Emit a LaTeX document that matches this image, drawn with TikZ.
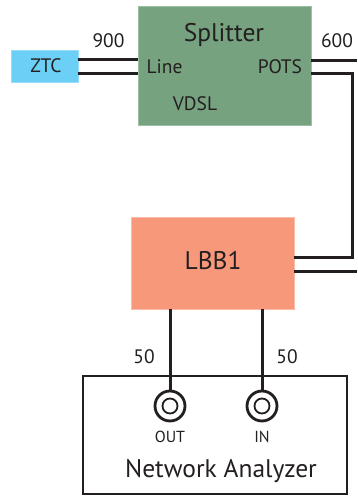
\documentclass[tikz,border=0pt]{standalone}
\usepackage{fontspec}
\setmainfont{PT Sans}
\definecolor{txt}{HTML}{231F20}
\definecolor{splitg}{HTML}{76A280}
\definecolor{splitb}{HTML}{9CC0A4}
\definecolor{lbbf}{HTML}{F7987A}
\definecolor{lbbb}{HTML}{FBBBA5}
\definecolor{ztcf}{HTML}{6CCFF6}
\begin{document}
\begin{tikzpicture}[x=1pt,y=-1pt,
  box/.style={rectangle, inner sep=0pt, outer sep=0pt},
  wire/.style={draw=txt, line width=3pt},
  lbl/.style={text=txt, inner sep=0pt, font=\fontsize{19.5}{21}\selectfont},
  big/.style={text=txt, inner sep=0pt, font=\fontsize{25.5}{28}\selectfont},
  small/.style={text=txt, inner sep=0pt, font=\fontsize{16}{18}\selectfont},
  jack/.style={circle, draw=txt, line width=2.8pt, fill=white, inner sep=0pt, minimum size=30pt},
  jackin/.style={circle, draw=txt, line width=1.8pt, inner sep=0pt, minimum size=15pt}
]
\useasboundingbox (0,0) rectangle (357,496);
% boxes
\node[box, fill=splitg, draw=splitb, line width=1pt, minimum width=173pt, minimum height=119pt] (split) at (224.5,65.5) {};
\node[box, fill=ztcf, draw=ztcf!70!white, line width=0.8pt, minimum width=67pt, minimum height=32pt] (ztc) at (44.5,66) {};
\node[box, fill=lbbf, draw=lbbb, line width=1pt, minimum width=163pt, minimum height=92pt] (lbb) at (212.5,263) {};
\node[box, draw=txt, line width=2.4pt, minimum width=264pt, minimum height=118pt] (na) at (215,435) {};
% texts
\node[big] (tsplit) at (224,35) {Splitter};
\node[lbl] (tline) at (164.5,67) {Line};
\node[lbl] (tpots) at (280,67) {POTS};
\node[lbl] (tvdsl) at (195,104) {VDSL};
\node[lbl] (tztc) at (46,66) {ZTC};
\node[big] (tlbb) at (213,261) {LBB1};
\node[lbl] (t900) at (108.5,41) {900};
\node[lbl] (t600) at (337,41) {600};
\node[lbl] (t50a) at (144,357) {50};
\node[lbl] (t50b) at (287,357) {50};
\node[big] (tna) at (221,471) {Network Analyzer};
% jacks
\node[jack] (out) at (170,406) {};
\node[jackin] (outc) at (out.center) {};
\node[jack] (in) at (262,406) {};
\node[jackin] (inc) at (in.center) {};
\node[small] (tout) at (170,437) {OUT};
\node[small] (tin) at (262,437) {IN};
% free ends
\coordinate (e1) at (357,60);
\coordinate (e2) at (357,271);
\coordinate (c1) at (352,73);
\coordinate (c2) at (352,257);
% wires
\draw[wire] (ztc.east |- 0,59.5) -- (split.west |- 0,59.5);
\draw[wire] (ztc.east |- 0,73) -- (split.west |- 0,73);
\draw[wire] (split.east |- e1) -- (e1);
\draw[wire] (split.east |- c1) -- (c1) -- (c2) -- (lbb.east |- c2);
\draw[wire] (lbb.east |- e2) -- (e2);
\draw[wire] (lbb.south -| out.north) -- (out.north);
\draw[wire] (lbb.south -| in.north) -- (in.north);
\end{tikzpicture}
\end{document}
